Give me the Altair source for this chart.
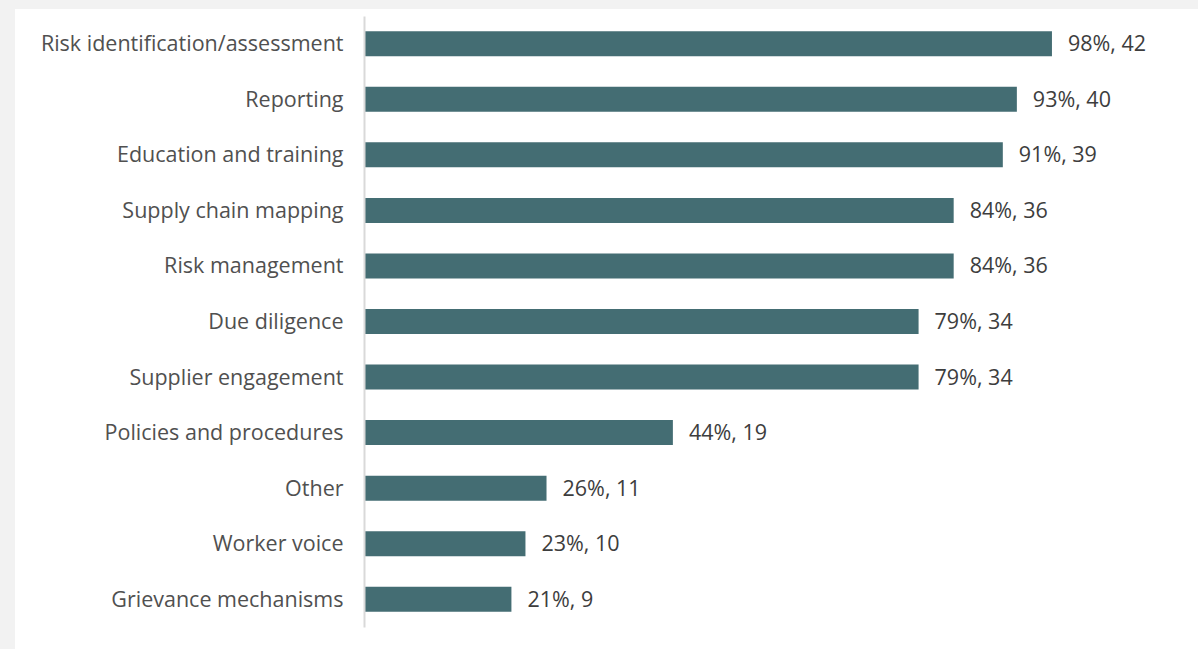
import altair as alt
import pandas as pd

categories = [
    "Risk identification/assessment", "Reporting", "Education and training",
    "Supply chain mapping", "Risk management", "Due diligence",
    "Supplier engagement", "Policies and procedures", "Other",
    "Worker voice", "Grievance mechanisms",
]
percents = [98, 93, 91, 84, 84, 79, 79, 44, 26, 23, 21]
counts = [42, 40, 39, 36, 36, 34, 34, 19, 11, 10, 9]

df = pd.DataFrame({"cat": categories, "pct": percents, "n": counts})
df["label"] = [f"{p}%, {n}" for p, n in zip(percents, counts)]

W, H = 702, 611
PL, PT = 364, 16

bg = alt.Chart(pd.DataFrame({"a": [0]})).mark_rect(fill="white").encode(
    x=alt.value(15 - PL), x2=alt.value(1198 - PL),
    y=alt.value(9 - PT), y2=alt.value(649 - PT),
)

y_enc = alt.Y("cat:N", sort=categories, title=None,
              scale=alt.Scale(paddingInner=0.55, paddingOuter=0.275),
              axis=alt.Axis(ticks=False, labelPadding=21, labelFontSize=21.5,
                            labelOffset=1.5,
                            labelColor="#505050", labelFont="Open Sans", labelLimit=0,
                            domainColor="#d9d9d9", domainWidth=2, zindex=1))

bars = alt.Chart(df).mark_bar(color="#446d73").encode(
    x=alt.X("pct:Q", scale=alt.Scale(domain=[0, 100]), axis=None),
    y=y_enc,
)
text = alt.Chart(df).mark_text(align="left", dx=16, dy=1.5, fontSize=21.5, font="Open Sans",
                               color="#3d3d3d").encode(
    x="pct:Q", y=alt.Y("cat:N", sort=categories), text="label:N",
)

chart = alt.layer(bg, bars, text).properties(
    width=W, height=H,
    autosize=alt.AutoSizeParams(type="none"),
    padding={"left": PL, "top": PT, "right": 1198 - PL - W, "bottom": 649 - PT - H},
    background="#f2f2f2",
).configure_view(stroke=None)

chart.save("out.html", embed_options={"renderer": "svg", "actions": False})
